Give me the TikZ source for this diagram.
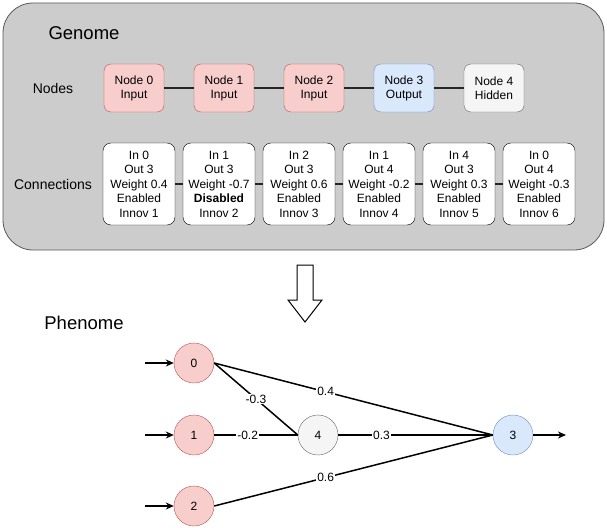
\documentclass[tikz,border=0pt]{standalone}
\usepackage{fontspec}
\setmainfont{Liberation Sans}
\usetikzlibrary{arrows.meta}
\definecolor{redfill}{HTML}{F8CECC}\definecolor{redline}{HTML}{B85450}
\definecolor{bluefill}{HTML}{DAE8FC}\definecolor{blueline}{HTML}{6C8EBF}
\definecolor{grayfill}{HTML}{F5F5F5}\definecolor{grayline}{HTML}{666666}
\definecolor{panel}{HTML}{CCCCCC}
\begin{document}
\begin{tikzpicture}[x=1pt,y=-1pt,
  gbox/.style={draw,rounded corners=7pt,minimum width=60pt,minimum height=48pt,align=center,font=\fontsize{12}{14}\selectfont,inner sep=1pt},
  rednode/.style={gbox,fill=redfill,draw=redline},
  bluenode/.style={gbox,fill=bluefill,draw=blueline},
  graynode/.style={gbox,fill=grayfill,draw=grayline},
  cbox/.style={draw=black,fill=white,rounded corners=8pt,minimum width=72pt,minimum height=82pt,align=center,font=\fontsize{12}{14.5}\selectfont,inner sep=1pt},
  link/.style={line width=1.5pt,draw=black!85},
  circ/.style={circle,minimum size=40pt,inner sep=0pt,font=\fontsize{12}{14}\selectfont},
  rc/.style={circ,draw=redline,fill=redfill},
  bc/.style={circ,draw=blueline,fill=bluefill},
  gc/.style={circ,draw=grayline,fill=grayfill},
  edge/.style={line width=1.5pt,draw=black},
  inarrow/.style={line width=1.5pt,-{Stealth[length=8pt,width=7pt]}},
  wlab/.style={fill=white,inner sep=1pt,font=\fontsize{12}{14}\selectfont},
  lab/.style={font=\fontsize{14}{16}\selectfont},
  title/.style={font=\fontsize{18.5}{21}\selectfont}
]
\useasboundingbox (0,0) rectangle (607,527);
\node[draw=black!65,fill=panel,rounded corners=30pt,minimum width=601pt,minimum height=247pt,line width=0.8pt] (panel) at (303.5,126.5) {};
\node[title] (genome) at (84,33) {Genome};
\node[lab] (nodeslab) at (53,88) {Nodes};
\node[lab] (connlab) at (53,184) {Connections};

\node[rednode] (n0) at (134,88) {Node 0\\Input};
\node[rednode] (n1) at (224,88) {Node 1\\Input};
\node[rednode] (n2) at (314,88) {Node 2\\Input};
\node[bluenode] (n3) at (404,88) {Node 3\\Output};
\node[graynode] (n4) at (494,88) {Node 4\\Hidden};
\draw[link] (n0) -- (n1); \draw[link] (n1) -- (n2); \draw[link] (n2) -- (n3); \draw[link] (n3) -- (n4);

\node[cbox] (c1) at (139,184) {In 0\\Out 3\\Weight 0.4\\Enabled\\Innov 1};
\node[cbox] (c2) at (219,184) {In 1\\Out 3\\Weight -0.7\\\textbf{Disabled}\\Innov 2};
\node[cbox] (c3) at (299,184) {In 2\\Out 3\\Weight 0.6\\Enabled\\Innov 3};
\node[cbox] (c4) at (379,184) {In 1\\Out 4\\Weight -0.2\\Enabled\\Innov 4};
\node[cbox] (c5) at (459,184) {In 4\\Out 3\\Weight 0.3\\Enabled\\Innov 5};
\node[cbox] (c6) at (539,184) {In 0\\Out 4\\Weight -0.3\\Enabled\\Innov 6};
\draw[link] (c1) -- (c2); \draw[link] (c2) -- (c3); \draw[link] (c3) -- (c4); \draw[link] (c4) -- (c5); \draw[link] (c5) -- (c6);

% hollow down arrow
\draw[line width=1pt,fill=white] (297,265) -- (313,265) -- (313,300) -- (322,300) -- (305,322) -- (288,300) -- (297,300) -- cycle;

\node[title] (phenome) at (84,323) {Phenome};

\node[rc] (p0) at (194,363) {0};
\node[rc] (p1) at (194,435) {1};
\node[rc] (p2) at (194,506) {2};
\node[gc] (p4) at (318,435) {4};
\node[bc] (p3) at (513,435) {3};

\coordinate (i0) at (145,363);
\coordinate (i1) at (145,435);
\coordinate (i2) at (145,506);
\coordinate (o3) at (566,435);
\draw[inarrow] (i0) -- (p0.west);
\draw[inarrow] (i1) -- (p1.west);
\draw[inarrow] (i2) -- (p2.west);
\draw[inarrow] (p3.east) -- (o3);

\draw[edge] (p0.east) -- node[wlab,pos=0.5] {-0.3} (p4.west);
\draw[edge] (p0.east) -- node[wlab,pos=0.4] {0.4} (p3.west);
\draw[edge] (p1.east) -- node[wlab,pos=0.4] {-0.2} (p4.west);
\draw[edge] (p4.east) -- node[wlab,pos=0.28] {0.3} (p3.west);
\draw[edge] (p2.east) -- node[wlab,pos=0.4] {0.6} (p3.west);
\end{tikzpicture}
\end{document}
